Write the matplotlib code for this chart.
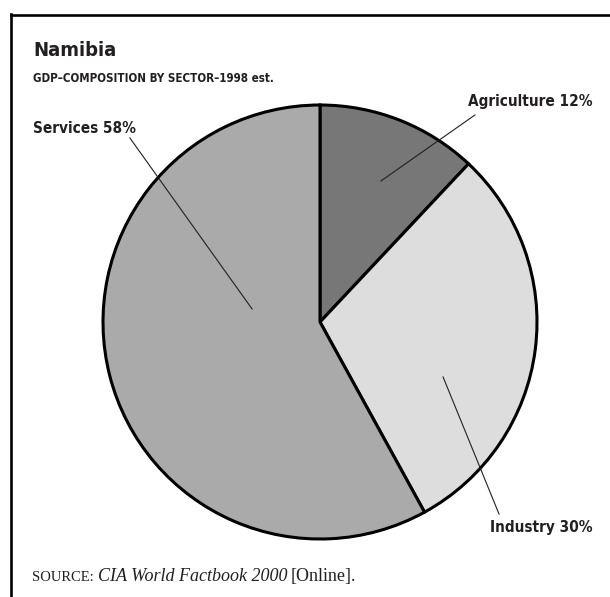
import matplotlib
matplotlib.use("Agg")
import matplotlib.pyplot as plt
from matplotlib.lines import Line2D

# Data
sectors = ["Agriculture", "Industry", "Services"]
shares = [12, 30, 58]
colors = ["#777777", "#dddddd", "#aaaaaa"]
title = "Namibia"
subtitle = "GDP\u2013COMPOSITION BY SECTOR\u20131998 est."

W, H = 610, 597
fig = plt.figure(figsize=(W / 100, H / 100), dpi=100)

def fx(px):
    return px / W

def fy(py):
    return 1 - py / H

# Frame: top and left lines
fig.add_artist(Line2D([fx(11), fx(610)], [fy(14.8), fy(14.8)], color="black", lw=1.9, transform=fig.transFigure))
fig.add_artist(Line2D([fx(11.2), fx(11.2)], [fy(14), fy(597)], color="black", lw=1.9, transform=fig.transFigure))

cx, cy, r = 320, 322, 217
ax = fig.add_axes([fx(cx - r), fy(cy + r), 2 * r / W, 2 * r / H])
ax.pie(shares, colors=colors, startangle=90, counterclock=False, radius=1,
       wedgeprops=dict(edgecolor="black", linewidth=2.2))
ax.set_xlim(-1, 1)
ax.set_ylim(-1, 1)
ax.set_aspect("equal")
ax.axis("off")

bold = ["DejaVu Sans", "Liberation Sans"]
txtc = "#231f20"
labels = [f"{s} {v}%" for s, v in zip(sectors, shares)]
lab_pos = [(593, 106, "right"), (593, 532, "right"), (33, 133, "left")]
leaders = [((0.281, 0.650), (0.714, 0.954)),
           ((0.567, -0.253), (0.825, -0.885)),
           ((-0.313, 0.060), (-0.876, 0.848))]
for lab, (px, py, ha), (p0, p1) in zip(labels, lab_pos, leaders):
    fig.text(fx(px), fy(py), lab, ha=ha, va="baseline", family=bold,
             fontweight="bold", fontstretch="condensed", fontsize=11, color=txtc)
    ax.plot([p0[0], p1[0]], [p0[1], p1[1]], color=txtc, lw=0.8, clip_on=False)

fig.text(fx(33), fy(56), title, ha="left", va="baseline", family=bold,
         fontweight="bold", fontstretch="condensed", fontsize=14.5, color=txtc)
fig.text(fx(33), fy(82), subtitle, ha="left", va="baseline", family=bold,
         fontweight="bold", fontstretch="condensed", fontsize=8.3, color=txtc)

serif = ["Liberation Serif", "DejaVu Serif"]
t1 = fig.text(fx(32), fy(581), "SOURCE:", ha="left", va="baseline", family=serif,
              fontsize=10.5, color=txtc)
fig.canvas.draw()
bb = t1.get_window_extent()
t2 = fig.text(bb.x1 / W + fx(4), fy(581), "CIA World Factbook 2000", ha="left", va="baseline",
              family=serif, style="italic", fontsize=13, color=txtc)
fig.canvas.draw()
bb2 = t2.get_window_extent()
fig.text(bb2.x1 / W + fx(4), fy(581), "[Online].", ha="left", va="baseline",
         family=serif, fontsize=13, color=txtc)

fig.savefig("out.png", dpi=100)
